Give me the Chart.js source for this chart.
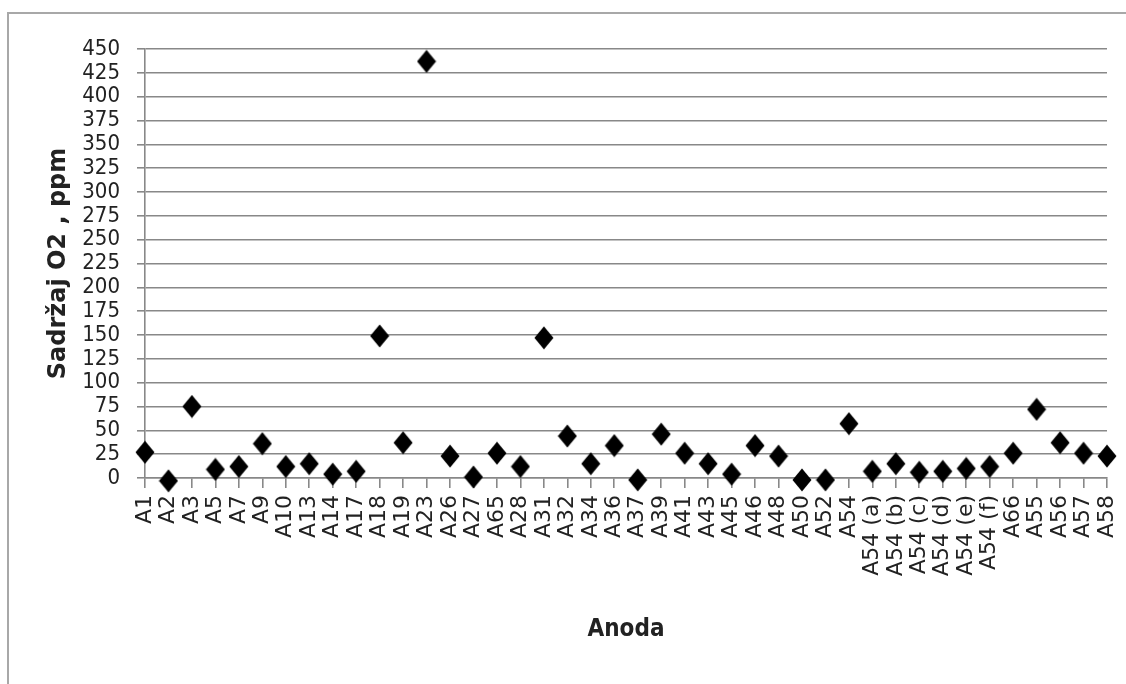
<!DOCTYPE html>
<html>
<head>
<meta charset="utf-8">
<script src="https://cdn.jsdelivr.net/npm/chart.js@4/dist/chart.umd.min.js"></script>
<style>
  html, body { margin: 0; padding: 0; background: #fff; }
  #wrap { position: relative; width: 1126px; height: 684px; overflow: hidden; }
  #frame { position: absolute; left: 7px; top: 12px; right: -10px; bottom: -10px;
           border-top: 2px solid #a8a8a8; border-left: 2px solid #a8a8a8; }
  canvas { position: absolute; left: 0; top: 0; }
</style>
</head>
<body>
<div id="wrap">
  <div id="frame"></div>
  <canvas id="c" width="1126" height="684"></canvas>
</div>
<script>
const categories = ["A1","A2","A3","A5","A7","A9","A10","A13","A14","A17","A18","A19","A23","A26","A27","A65","A28","A31","A32","A34","A36","A37","A39","A41","A43","A45","A46","A48","A50","A52","A54","A54 (a)","A54 (b)","A54 (c)","A54 (d)","A54 (e)","A54 (f)","A66","A55","A56","A57","A58"];
const o2Values = [27,-3,75,9,12,36,12,15,4,7,149,37,437,23,1,26,12,147,44,15,34,-2,46,26,15,4,34,23,-2,-2,57,7,15,6,7,10,12,26,72,37,26,23];
const yTickValues = [0,25,50,75,100,125,150,175,200,225,250,275,300,325,350,375,400,425,450];
const yTitle = "Sadržaj O2 , ppm";
const xTitle = "Anoda";

// diamond marker
const marker = document.createElement('canvas');
marker.width = 20; marker.height = 24;
(function(){
  const g = marker.getContext('2d');
  g.fillStyle = '#000';
  g.beginPath();
  g.moveTo(10, 0.5); g.lineTo(19.5, 12); g.lineTo(10, 23.5); g.lineTo(0.5, 12);
  g.closePath(); g.fill();
})();

const gridColor = '#888888';
new Chart(document.getElementById('c'), {
  type: 'line',
  data: {
    labels: categories,
    datasets: [{
      data: o2Values,
      showLine: false,
      pointStyle: marker,
      pointRadius: 10,
      pointHoverRadius: 10,
      clip: false
    }]
  },
  options: {
    responsive: false,
    animation: false,
    events: [],
    layout: { padding: { left: 0, top: 49, right: 19, bottom: 0 } },
    plugins: { legend: { display: false }, tooltip: { enabled: false } },
    scales: {
      x: {
        offset: false,
        afterFit: (s) => { s.height = 206; s.paddingRight = 0; s.paddingLeft = 0; },
        grid: { drawOnChartArea: false, drawTicks: true, tickLength: 10, color: gridColor, lineWidth: 1.6 },
        border: { display: true, color: gridColor, width: 1.6 },
        ticks: {
          autoSkip: false, maxRotation: 90, minRotation: 90, padding: 7,
          color: '#222',
          font: { family: "'DejaVu Sans', sans-serif", size: 22 }
        },
        title: {
          display: true, text: xTitle, color: '#222',
          font: { family: "'Liberation Sans Narrow', 'DejaVu Sans Condensed', sans-serif", size: 24, weight: 'bold' },
          padding: { top: 0, bottom: 40 }
        }
      },
      y: {
        min: 0, max: 450,
        afterFit: (s) => { s.width = 145; s.paddingTop = 0; s.paddingBottom = 0; },
        afterBuildTicks: (s) => { s.ticks = yTickValues.map(v => ({ value: v })); },
        grid: { drawTicks: true, tickLength: 8, color: gridColor, lineWidth: 1.6 },
        border: { display: true, color: gridColor, width: 1.6 },
        ticks: {
          autoSkip: false, padding: 17, color: '#222',
          font: { family: "'DejaVu Sans Condensed', sans-serif", size: 22 }
        },
        title: {
          display: true, text: yTitle, color: '#222',
          font: { family: "'DejaVu Sans', sans-serif", size: 24, weight: 'bold' },
          padding: { top: 44, bottom: 0 }
        }
      }
    }
  }
});
</script>
</body>
</html>
